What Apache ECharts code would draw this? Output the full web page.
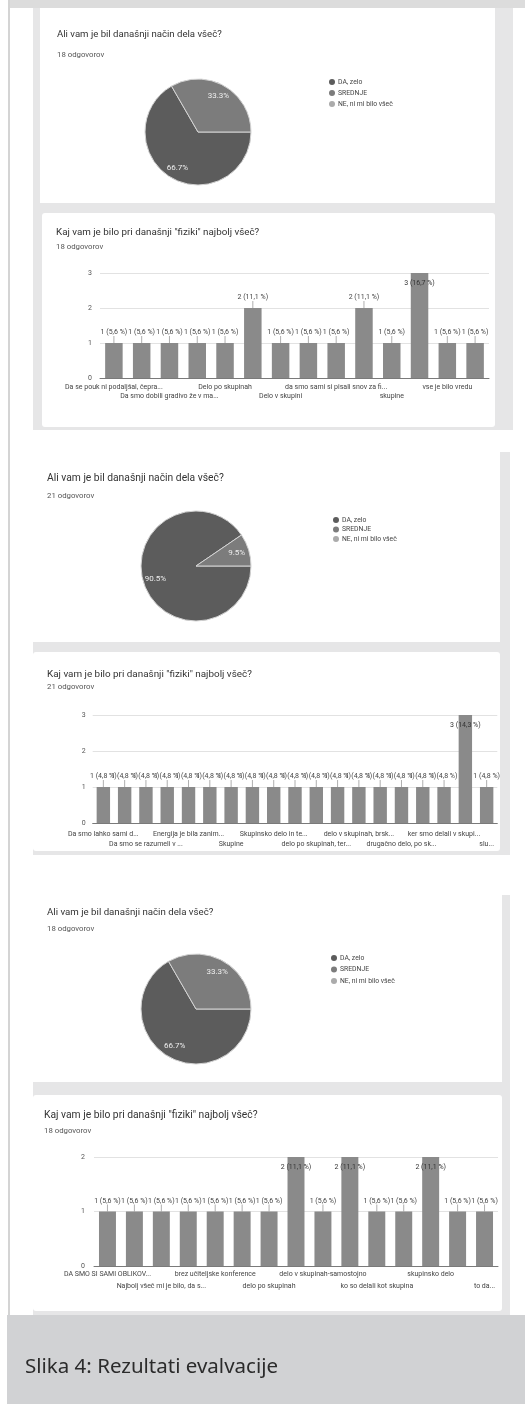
<!DOCTYPE html>
<html><head><meta charset="utf-8">
<script src="https://cdn.jsdelivr.net/npm/echarts@6/dist/echarts.min.js"></script>
<style>html,body{margin:0;padding:0;background:#fff}#c{width:525px;height:1404px}</style>
</head><body><div id="c"></div>
<script>
// ---------- data ----------
const pieTitle = 'Ali vam je bil današnji način dela všeč?';
const barTitle = 'Kaj vam je bilo pri današnji "fiziki" najbolj všeč?';
const caption = 'Slika 4: Rezultati evalvacije';
const pieNames = ['DA, zelo', 'SREDNJE', 'NE, ni mi bilo všeč'];
const pie1Values = [12, 6, 0];
const pie2Values = [19, 2, 0];
const pie3Values = [12, 6, 0];
const responses1 = '18 odgovorov';
const responses2 = '21 odgovorov';
const responses3 = '18 odgovorov';

// hidden (unlabelled) categories are named "odgovor N"; Google hides every other label
const bar1Categories = ['Da se pouk ni podaljšal, čepra...', 'odgovor 2', 'Da smo dobili gradivo že v ma...', 'odgovor 4',
  'Delo po skupinah', 'odgovor 6', 'Delo v skupini', 'odgovor 8', 'da smo sami si pisali snov za fi...', 'odgovor 10',
  'skupine', 'odgovor 12', 'vse je bilo vredu', 'odgovor 14'];
const bar1Values = [1, 1, 1, 1, 1, 2, 1, 1, 1, 2, 1, 3, 1, 1];
const bar1YMax = 3;

const bar2Categories = ['Da smo lahko sami d...', 'odgovor 2', 'Da smo se razumeli v ...', 'odgovor 4',
  'Energija je bila zanim...', 'odgovor 6', 'Skupine', 'odgovor 8', 'Skupinsko delo in te...', 'odgovor 10',
  'delo po skupinah, ter...', 'odgovor 12', 'delo v skupinah, brsk...', 'odgovor 14', 'drugačno delo, po sk...',
  'odgovor 16', 'ker smo delali v skupi...', 'odgovor 18', 'slu...'];
const bar2Values = [1, 1, 1, 1, 1, 1, 1, 1, 1, 1, 1, 1, 1, 1, 1, 1, 1, 3, 1];
const bar2YMax = 3;

const bar3Categories = ['DA SMO SI SAMI OBLIKOV...', 'odgovor 2', 'Najbolj všeč mi je bilo, da s...', 'odgovor 4',
  'brez učiteljske konference', 'odgovor 6', 'delo po skupinah', 'odgovor 8', 'delo v skupinah-samostojno', 'odgovor 10',
  'ko so delali kot skupina', 'odgovor 12', 'skupinsko delo', 'odgovor 14', 'to da...'];
const bar3Values = [1, 1, 1, 1, 1, 1, 1, 2, 1, 2, 1, 1, 2, 1, 1];
const bar3YMax = 2;

// ---------- styles ----------
const pieColors = ['#5c5c5c', '#7c7c7c', '#ababab'];
const barColor = '#8a8a8a';
const FONT = 'Roboto, sans-serif';

const chart = echarts.init(document.getElementById('c'), null, { renderer: 'canvas' });

function pieData(values, labels) {
  return values.map((v, i) => ({
    name: pieNames[i], value: v,
    itemStyle: labels ? { color: 'rgba(0,0,0,0)', borderWidth: 0 } : { color: pieColors[i], borderWidth: v > 0 ? 1 : 0 },
    label: { show: labels && v > 0 }
  }));
}
function pieSeries(values, center, r) {
  return [{
    type: 'pie', center: center, radius: [0, r], startAngle: 0, clockwise: true,
    avoidLabelOverlap: false, silent: true, label: { show: false }, labelLine: { show: false },
    itemStyle: { borderColor: '#d4d4d4', borderWidth: 1 },
    data: pieData(values, false)
  }, {
    type: 'pie', center: center, radius: [Math.round(r * 0.44), r], startAngle: 0, clockwise: true,
    avoidLabelOverlap: false, silent: true, legendHoverLink: false,
    label: { position: 'inside', fontSize: 8, color: '#eeeeee', fontFamily: FONT,
      formatter: p => p.percent.toFixed(1) + '%' },
    labelLine: { show: false },
    data: pieData(values, true)
  }];
}
function pct(v, total) { return (v / total * 100).toFixed(1).replace('.', ','); }
function barSeries(values, idx) {
  const total = values.reduce((a, b) => a + b, 0);
  const max = Math.max(...values);
  return {
    type: 'bar', xAxisIndex: idx, yAxisIndex: idx, barWidth: '63%', silent: true,
    itemStyle: { color: barColor },
    label: { show: true, position: 'top', distance: 1, fontSize: 7, color: '#444', fontFamily: FONT,
      formatter: p => p.value + ' (' + pct(p.value, total) + ' %)' },
    labelLine: { show: true, lineStyle: { color: '#9a9a9a', width: 0.8 } },
    labelLayout: p => (values[p.dataIndex] === max ? {} : { dy: -6 }),
    data: values.map(v => v === max
      ? { value: v, label: { position: 'insideTop', distance: 7, color: '#333' }, labelLine: { show: false } }
      : v)
  };
}
// two category axes per grid: row 1 shows categories 0,4,8..., row 2 shows 2,6,10...
function xAxis(cats, idx, margin, row) {
  const labelOpt = { interval: i => i % 4 === row * 2, hideOverlap: false, fontSize: 7, color: '#444',
    margin: margin, fontFamily: FONT };
  if (row === 0) labelOpt.showMinLabel = true;
  return {
    type: 'category', gridIndex: idx, data: cats, position: 'bottom', offset: 0,
    axisTick: { show: false },
    axisLine: { show: row === 0, lineStyle: { color: '#7a7a7a', width: 1 } },
    splitLine: { show: false },
    axisLabel: labelOpt
  };
}
function yAxis(max, idx, margin) {
  return {
    type: 'value', gridIndex: idx, min: 0, max: max, interval: 1,
    axisLine: { show: false }, axisTick: { show: false },
    axisLabel: { fontSize: 7, color: '#555', margin: margin, fontFamily: FONT, showMinLabel: true },
    splitLine: { lineStyle: { color: '#e2e2e2', width: 1 } }
  };
}
function title(text, sub, left, y, gap, fs) {
  return {
    text: text, subtext: sub, left: left, top: y - 5.5, padding: 0, itemGap: gap,
    textStyle: { fontSize: fs, fontWeight: 'normal', color: '#333', lineHeight: 11, fontFamily: FONT },
    subtextStyle: { fontSize: 7.8, color: '#555', lineHeight: 9, fontFamily: FONT }
  };
}
function legend(left, top, gap) {
  return {
    orient: 'vertical', left: left, top: top, padding: 0, itemGap: gap, icon: 'circle',
    itemWidth: 6, itemHeight: 6, selectedMode: false, data: pieNames,
    itemStyle: { borderWidth: 0 },
    textStyle: { fontSize: 6.8, color: '#444', lineHeight: 7, fontFamily: FONT, padding: [0, 0, 0, -2] }
  };
}
function rect(x, y, w, h, fill, r) {
  return { type: 'rect', z: -100, silent: true, shape: { x: x, y: y, width: w, height: h, r: r || 0 }, style: { fill: fill } };
}
const GB = '#e6e6e7';

const option = {
  backgroundColor: '#ffffff',
  animation: false,
  textStyle: { fontFamily: FONT },
  graphic: { elements: [
    rect(8, 0, 517, 8, '#dcdcdc'),
    rect(8, 0, 2, 1316, '#d4d4d4'),
    // screenshot 1
    rect(33, 8, 480, 422, GB),
    rect(40, 8, 455, 195, '#ffffff'),
    rect(42, 213, 453, 214, '#ffffff', 3),
    // screenshot 2
    rect(33, 452, 477, 403, GB),
    rect(33, 452, 467, 190, '#ffffff'),
    rect(33, 652, 467, 199, '#ffffff', 3),
    // screenshot 3
    rect(33, 895, 477, 420, GB),
    rect(33, 895, 469, 187, '#ffffff'),
    rect(33, 1095, 469, 216, '#ffffff', 3),
    // caption
    rect(7, 1315, 518, 89, '#d1d2d4'),
    { type: 'text', z: 100, silent: true, x: 25, y: 1367,
      style: { text: caption, fill: '#2b2b2b', fontSize: 20.5, fontFamily: '"Noto Sans", sans-serif', verticalAlign: 'middle' } }
  ] },
  title: [
    title(pieTitle, responses1, 57, 35, 10, 9.6),
    title(barTitle, responses1, 56, 233, 4, 9.8),
    title(pieTitle, responses2, 47, 478, 8, 10.3),
    title(barTitle, responses2, 47, 675, 2, 9.9),
    title(pieTitle, responses3, 47, 913, 6, 9.7),
    title(barTitle, responses3, 44, 1115, 6, 10.3)
  ],
  legend: [
    legend(329, 78.5, 4),
    legend(333, 516.5, 2.5),
    legend(331, 954.5, 4.5)
  ],
  grid: [
    { left: 100, top: 273, width: 389, height: 105 },
    { left: 92.7, top: 715, width: 404.6, height: 108 },
    { left: 94, top: 1157, width: 404, height: 109 }
  ],
  xAxis: [
    xAxis(bar1Categories, 0, 6, 0),
    xAxis(bar2Categories, 1, 7.5, 0),
    xAxis(bar3Categories, 2, 5, 0),
    xAxis(bar1Categories, 0, 15, 1),
    xAxis(bar2Categories, 1, 17.5, 1),
    xAxis(bar3Categories, 2, 16.5, 1)
  ],
  yAxis: [
    yAxis(bar1YMax, 0, 8),
    yAxis(bar2YMax, 1, 7),
    yAxis(bar3YMax, 2, 9)
  ],
  series: [
    ...pieSeries(pie1Values, [198, 132], 53),
    ...pieSeries(pie2Values, [196, 566], 55),
    ...pieSeries(pie3Values, [196, 1009], 55),
    barSeries(bar1Values, 0),
    barSeries(bar2Values, 1),
    barSeries(bar3Values, 2)
  ]
};
chart.setOption(option);
</script>
</body></html>
